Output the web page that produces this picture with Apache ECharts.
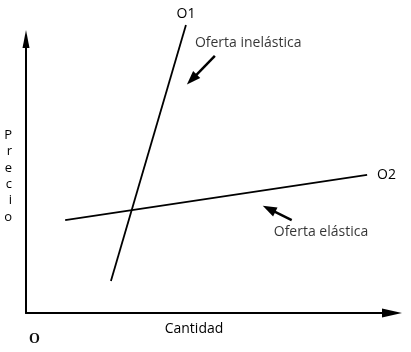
<!DOCTYPE html>
<html><head><meta charset="utf-8">
<script src="https://cdn.jsdelivr.net/npm/echarts@6/dist/echarts.min.js"></script>
<style>html,body{margin:0;padding:0;background:#fff}#c{width:411px;height:352px}</style>
</head><body><div id="c"></div>
<script>
// Supply curves: [quantity, price] endpoints (arbitrary units 0..10)
const curveO1 = [[2.32, 1.17], [4.37, 10.51]];
const curveO2 = [[1.07, 3.39], [9.32, 5.04]];
const curveNames = ['O1', 'O2'];
// Annotation arrows: [tail, head]
const arrowInelastic = [[5.16, 9.38], [4.53, 8.52]];
const arrowElastic = [[7.26, 3.39], [6.64, 3.80]];
// Annotation text anchors
const annotTexts = ['Oferta inelástica', 'Oferta elástica'];
const annotPos = [[6.07, 9.85], [8.06, 2.96]];
const xName = 'Cantidad';
const yName = 'Precio';
const originLabel = 'O';

const font = '"Open Sans", sans-serif';
const chart = echarts.init(document.getElementById('c'), null, {renderer: 'canvas'});
const axisCommon = {
  type: 'value', min: 0, max: 10,
  axisLine: {show: true, onZero: false, symbol: ['none', 'triangle'], lineStyle: {color: '#000', width: 2}},
  axisTick: {show: false}, axisLabel: {show: false}, splitLine: {show: false}
};
function curveSeries(data, name, pos, dist) {
  return {
    type: 'line', symbol: 'circle', symbolSize: 0, showSymbol: true, clip: false,
    lineStyle: {color: '#000', width: 1.8}, itemStyle: {color: '#000'},
    data: data.map((p, i) => ({value: p, label: {show: i === data.length - 1, position: pos, distance: dist, formatter: name, fontFamily: font, fontSize: 14, color: '#000'}}))
  };
}
chart.setOption({
  animation: false,
  backgroundColor: '#fff',
  grid: {left: 26, right: 19, top: 39, bottom: 39},
  xAxis: Object.assign({}, axisCommon, {
    name: xName, nameLocation: 'middle', nameGap: 9,
    nameTextStyle: {fontFamily: font, fontSize: 14, color: '#000', padding: [0, 30, 0, 0]},
    axisLine: Object.assign({}, axisCommon.axisLine, {symbolSize: [9, 20]})
  }),
  yAxis: Object.assign({}, axisCommon, {
    name: yName.split('').join('\n'), nameLocation: 'middle', nameRotate: 0, nameGap: 14,
    nameTextStyle: {fontFamily: font, fontSize: 13, color: '#000', lineHeight: 16.4, padding: [0, 0, 16, 0]},
    axisLine: Object.assign({}, axisCommon.axisLine, {symbolSize: [7, 18]})
  }),
  graphic: [{type: 'text', left: 29, top: 332, style: {text: originLabel, font: 'bold 14px "Liberation Serif", serif', fill: '#111'}}],
  series: [
    curveSeries(curveO1, curveNames[0], 'top', 4),
    curveSeries(curveO2, curveNames[1], 'right', 10),
    {
      type: 'scatter', symbolSize: 0, clip: false,
      data: annotPos.map((p, i) => ({value: p, label: {show: true, position: 'inside', formatter: annotTexts[i], fontFamily: font, fontSize: 14, color: '#000'}})),
      markLine: {
        silent: true, symbol: ['none', 'triangle'], symbolSize: [10, 14],
        lineStyle: {color: '#000', width: 2.5, type: 'solid'}, itemStyle: {color: '#000'}, label: {show: false},
        data: [
          [{coord: arrowInelastic[0]}, {coord: arrowInelastic[1]}],
          [{coord: arrowElastic[0]}, {coord: arrowElastic[1]}]
        ]
      }
    }
  ]
});
</script></body></html>
